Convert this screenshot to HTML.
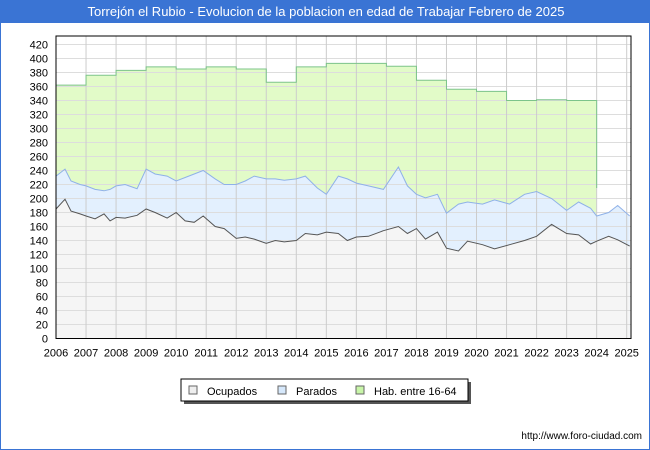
<!DOCTYPE html>
<html><head><meta charset="utf-8"><style>
body{margin:0;background:#fff;font-family:"Liberation Sans",sans-serif}
#wrap{position:relative;width:650px;height:450px;overflow:hidden;border:1px solid #3a74d4;box-sizing:border-box}
#title{position:absolute;left:0;top:0;width:650px;height:22px;background:#3a74d4;color:#fff;font-size:13px;line-height:22px;text-align:center}
</style></head><body>
<div id="wrap">
<div id="title">Torrejón el Rubio - Evolucion de la poblacion en edad de Trabajar Febrero de 2025</div>
<svg id="svg" width="650" height="450" style="position:absolute;left:0;top:0"></svg>
</div>
<script>
const habYears=[2006,2007,2008,2009,2010,2011,2012,2013,2014,2015,2016,2017,2018,2019,2020,2021,2022,2023];
const habValues=[362,376,383,388,385,388,385,366,388,393,393,389,369,356,353,340,341,340];
const habEndValue=215;
const tYears=[2006,2006.3,2006.5,2006.8,2007,2007.3,2007.6,2007.8,2008,2008.3,2008.7,2009,2009.3,2009.7,2010,2010.3,2010.6,2010.9,2011.3,2011.6,2012,2012.3,2012.6,2013,2013.3,2013.6,2014,2014.3,2014.7,2015,2015.4,2015.7,2016,2016.4,2016.9,2017.4,2017.7,2018,2018.3,2018.7,2019,2019.4,2019.7,2020.2,2020.6,2021.1,2021.6,2022,2022.5,2023,2023.4,2023.8,2024,2024.4,2024.7,2025.1];
const parados=[232,242,225,220,218,213,211,213,218,220,214,242,235,232,225,230,235,240,228,220,220,225,232,228,228,226,228,232,215,206,232,228,222,218,213,245,218,206,201,206,179,192,195,192,198,192,206,210,200,183,195,186,175,180,190,175];
const ocupados=[185,199,182,178,175,171,178,168,173,172,176,185,180,172,180,168,166,175,160,157,143,145,142,136,140,138,140,150,148,152,150,140,145,146,154,160,150,157,142,152,129,125,139,134,128,134,140,146,163,150,148,135,139,146,141,132];
const yTicks=[0,20,40,60,80,100,120,140,160,180,200,220,240,260,280,300,320,340,360,380,400,420];
const xTicks=[2006,2007,2008,2009,2010,2011,2012,2013,2014,2015,2016,2017,2018,2019,2020,2021,2022,2023,2024,2025];
const NS='http://www.w3.org/2000/svg',svg=document.getElementById('svg');
const L=55,R=630,T=35,B=337.5;
const x=v=>L+(v-2006)/(2025.1-2006)*(R-L-1.3);
const y=v=>B-v*0.7;
function add(tag,at,txt){const e=document.createElementNS(NS,tag);for(const k in at)e.setAttribute(k,at[k]);if(txt!=null)e.textContent=txt;svg.appendChild(e);return e;}
let e=add('rect',{x:L,y:T,width:R-L,height:B-T,fill:'#fff'});

let hp='M'+x(2006)+','+B;
habValues.forEach((v,i)=>{hp+=' L'+x(habYears[i])+','+y(v)+' L'+x(habYears[i]+1)+','+y(v);});
let habLine=hp.replace('M'+x(2006)+','+B+' L','M');
hp+=' L'+x(2024)+','+y(habEndValue)+' L'+x(2024)+','+B+' Z';
habLine+=' L'+x(2024)+','+y(habEndValue);
e=add('path',{d:hp,fill:'#e2fbc8'});
const pts=a=>a.map((v,i)=>x(tYears[i])+','+y(v)).join(' L');
e=add('path',{d:'M'+pts(parados)+' L'+x(tYears[tYears.length-1])+','+B+' L'+x(2006)+','+B+' Z',fill:'#e3f0fe'});

e=add('path',{d:'M'+pts(ocupados)+' L'+x(tYears[tYears.length-1])+','+B+' L'+x(2006)+','+B+' Z',fill:'#f5f5f5'});

yTicks.forEach(v=>{e=add('line',{x1:L,x2:R,y1:y(v),y2:y(v),stroke:'#ddd','stroke-width':1});

e=add('text',{x:L-8,y:y(v)+4,'text-anchor':'end','font-size':11,fill:'#000'},v);
});
xTicks.forEach(v=>{e=add('line',{x1:x(v),x2:x(v),y1:T,y2:B,stroke:'#ccc','stroke-width':1});

e=add('text',{x:x(v),y:B+18,'text-anchor':'middle','font-size':11,fill:'#000'},v);
});
e=add('path',{d:habLine,fill:'none',stroke:'#7cc48a','stroke-width':1});
e=add('path',{d:'M'+pts(parados),fill:'none',stroke:'#8fb1e8','stroke-width':1});
e=add('path',{d:'M'+pts(ocupados),fill:'none',stroke:'#555','stroke-width':1});
e=add('rect',{x:L,y:T,width:R-L,height:B-T,fill:'none',stroke:'#000','stroke-width':1});
e=add('rect',{x:183,y:381,width:287,height:22,fill:'#555'});
e=add('rect',{x:180,y:378,width:287,height:22,fill:'#fff',stroke:'#000','stroke-width':1});
const leg=[['Ocupados','#eee',188],['Parados','#d6e8fb',277],['Hab. entre 16-64','#c8f5a8',355]];
leg.forEach(l=>{e=add('rect',{x:l[2],y:385,width:8,height:8,fill:l[1],stroke:'#666','stroke-width':1});

e=add('text',{x:l[2]+18,y:394,'font-size':11,fill:'#000'},l[0]);
});
e=add('text',{x:641,y:438,'text-anchor':'end','font-size':10,fill:'#000'},'http://www.foro-ciudad.com');

</script>
</body></html>
